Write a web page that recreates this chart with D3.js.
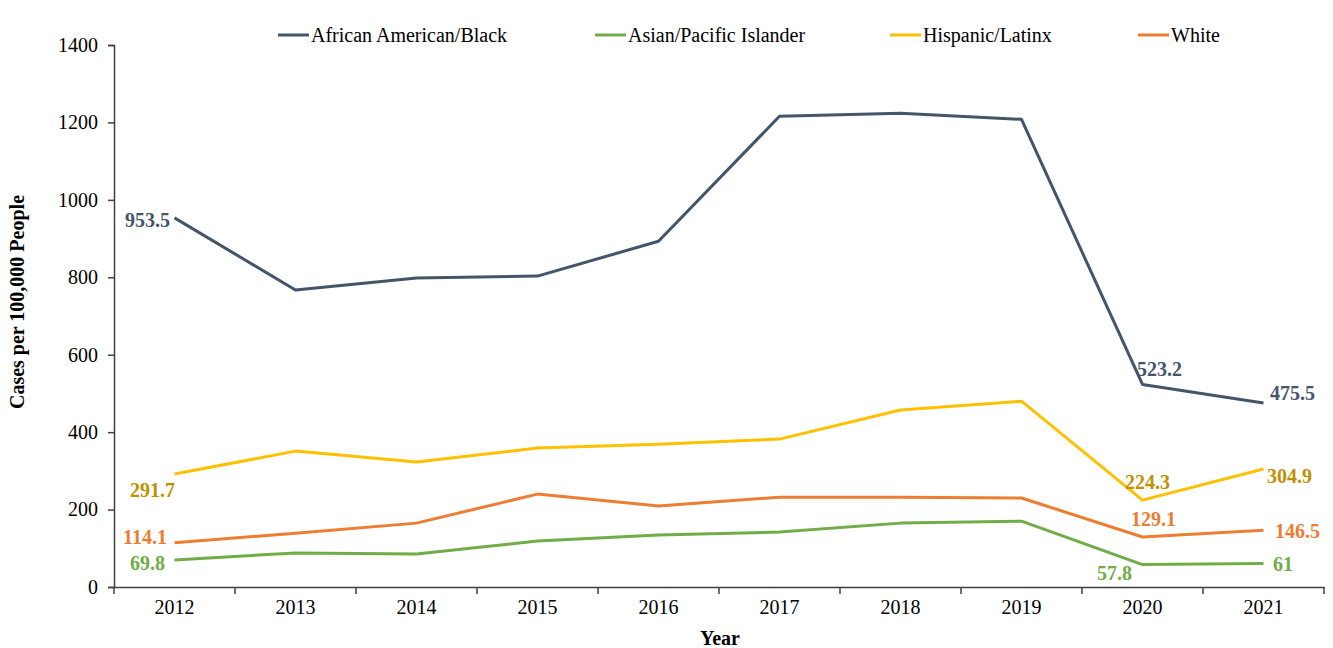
<!DOCTYPE html>
<html><head><meta charset="utf-8">
<script src="https://cdn.jsdelivr.net/npm/d3@7/dist/d3.min.js"></script>
<style>body{margin:0;background:#fff}svg{display:block}svg text{font-family:"Liberation Serif","Times New Roman",serif !important}</style>
</head><body><svg id="c" width="1333" height="648" style="font-family:'Liberation Serif',serif"></svg>
<script>
const years = ["2012","2013","2014","2015","2016","2017","2018","2019","2020","2021"];
const seriesNames = ["African American/Black","Asian/Pacific Islander","Hispanic/Latinx","White"];
const black = [953.5, 767, 798, 803, 893, 1216, 1224, 1208, 523.2, 475.5];
const asian = [69.8, 88, 85, 119, 134, 142, 165, 170, 57.8, 61];
const hispanic = [291.7, 351, 323, 359, 369, 382, 457, 480, 224.3, 304.9];
const white = [114.1, 139, 165, 240, 209, 232, 232, 230, 129.1, 146.5];
const yTicks = [0,200,400,600,800,1000,1200,1400];
// which points carry a value label
const labelledIdx = [0, 8, 9];

const colors = ["#44546A","#70AD47","#FFC000","#ED7D31"];
const labelColors = ["#44546A","#70AD47","#BF9000","#ED7D31"];
// label placement: [anchor, dx, dy] per labelled point
const labelPos = [
  [["end",-4.5,9],["start",-5.5,-8],["start",6.5,-3]],
  [["end",-9.5,10],["start",-45.5,15],["start",9.5,8]],
  [["end",0.5,23],["start",-17.5,-11],["start",3.5,14]],
  [["end",-7.5,1],["start",-11.5,-11],["start",11.5,8]]
];
const allSeries = [black, asian, hispanic, white];
const FF = "'Liberation Serif','Times New Roman',serif";

const svg = d3.select("#c");
const x = d3.scaleBand().domain(years).range([114, 1324]);
const y = d3.scaleLinear().domain([0,1400]).range([587, 45]);
const cx = d => x(d) + x.bandwidth()/2;

// y axis
const ya = svg.append("g").attr("transform","translate(114,0)")
  .call(d3.axisLeft(y).tickValues(yTicks).tickSize(6).tickPadding(10).tickFormat(d3.format("d")));
ya.attr("font-family",FF);
ya.select(".domain").attr("stroke","#404040").attr("stroke-width",1.5);
ya.selectAll(".tick line").attr("stroke","#404040").attr("stroke-width",1.5);
ya.selectAll("text").attr("font-size",20).attr("fill","#000");

// x axis
const xa = svg.append("g").attr("transform","translate(0,587)")
  .call(d3.axisBottom(x).tickSize(0).tickPadding(13));
xa.attr("font-family",FF);
xa.select(".domain").attr("stroke","#404040").attr("stroke-width",1.5);
xa.selectAll("text").attr("font-size",20).attr("fill","#000");
// ticks between categories
const bounds = years.map(d => x(d)).concat([x(years[years.length-1]) + x.bandwidth()]);
svg.append("g").selectAll("line").data(bounds).join("line")
  .attr("x1",d=>d).attr("x2",d=>d).attr("y1",587).attr("y2",594)
  .attr("stroke","#404040").attr("stroke-width",1.5);

// lines
const line = d3.line().x((d,i)=>cx(years[i])).y(d=>y(d));
allSeries.forEach((s,k)=>{
  svg.append("path").datum(s).attr("d",line).attr("fill","none")
    .attr("stroke",colors[k]).attr("stroke-width",3).attr("stroke-linejoin","round");
});

// labels
allSeries.forEach((s,k)=>{
  labelledIdx.forEach((i,j)=>{
    const p = labelPos[k][j];
    svg.append("text").attr("x",cx(years[i])+p[1]).attr("y",y(s[i])+p[2])
      .attr("text-anchor",p[0]).attr("font-size",20).attr("font-weight","bold")
      .attr("font-family",FF).attr("fill",labelColors[k]).text(String(s[i]));
  });
});

// axis titles
svg.append("text").attr("x",720).attr("y",645).attr("text-anchor","middle").attr("font-family",FF)
  .attr("font-size",20).attr("font-weight","bold").text("Year");
svg.append("text").attr("transform","translate(24,302) rotate(-90)").attr("text-anchor","middle").attr("font-family",FF)
  .attr("font-size",20).attr("font-weight","bold").text("Cases per 100,000 People");

// legend
const legX = [278, 595, 890, 1138];
seriesNames.forEach((n,k)=>{
  const g = svg.append("g").attr("transform",`translate(${legX[k]},35)`);
  g.append("line").attr("x1",0).attr("x2",31).attr("y1",0).attr("y2",0)
    .attr("stroke",colors[k]).attr("stroke-width",3);
  g.append("text").attr("x",33).attr("y",7).attr("font-size",20).attr("font-family",FF).attr("fill","#000").text(n);
});
</script></body></html>
